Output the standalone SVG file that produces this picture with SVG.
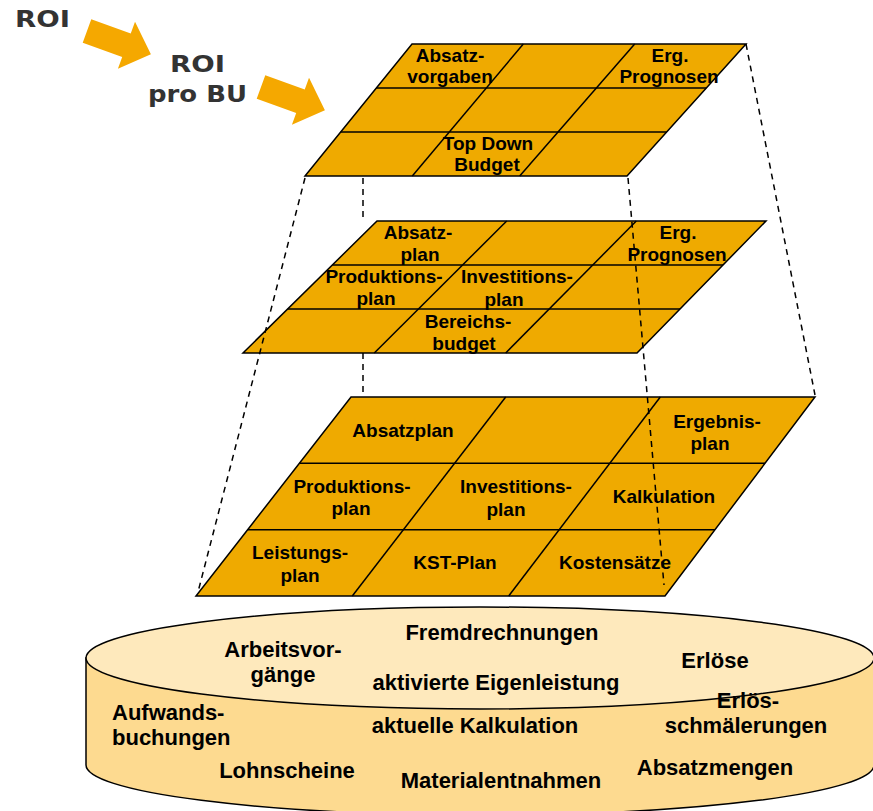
<svg xmlns="http://www.w3.org/2000/svg" width="873" height="811" viewBox="0 0 873 811">
<style>
.cell{fill:#EFAA00;stroke:#000;stroke-width:1.5;stroke-linejoin:miter}
.grid{stroke:#000;stroke-width:1.5;fill:none}
.dash{stroke:#000;stroke-width:1.5;stroke-dasharray:6 5;fill:none}
.lbl{font-family:"Liberation Sans",Arial,sans-serif;font-weight:bold;font-size:19px;fill:#000;text-anchor:middle}
.cyl{font-family:"Liberation Sans",Arial,sans-serif;font-weight:bold;font-size:22px;fill:#000;text-anchor:middle}
.roi{font-family:"DejaVu Sans",Verdana,sans-serif;font-weight:bold;font-size:23px;fill:#333;text-anchor:middle}
.arrow{fill:#F5A800}
</style>
<defs>
<polygon id="arr" points="0,-12.5 42,-12.5 42,-25 68,0 42,25 42,12.5 0,12.5"/>
</defs>
<rect width="873" height="811" fill="#fff"/>

<g id="roi-labels">
<text class="roi" x="42.5" y="27" textLength="55" lengthAdjust="spacingAndGlyphs">ROI</text>
<text class="roi" x="197.5" y="72" textLength="55" lengthAdjust="spacingAndGlyphs">ROI</text>
<text class="roi" x="197.5" y="102" textLength="99" lengthAdjust="spacingAndGlyphs">pro BU</text>
<use href="#arr" class="arrow" transform="translate(87,31) rotate(20)"/>
<use href="#arr" class="arrow" transform="translate(261,87) rotate(20)"/>
</g>

<g id="database">
<path d="M86,658 L86,765 A394,50 0 0 0 874,765 L874,658 Z" fill="#FDDA90" stroke="#000" stroke-width="1.5"/>
<ellipse cx="480" cy="658" rx="394" ry="51" fill="#FEE9BC" stroke="#000" stroke-width="1.5"/>
<text class="cyl" x="502" y="640">Fremdrechnungen</text>
<text class="cyl" x="283" y="657">Arbeitsvor-</text>
<text class="cyl" x="283" y="682">gänge</text>
<text class="cyl" x="715" y="668">Erlöse</text>
<text class="cyl" x="496" y="690">aktivierte Eigenleistung</text>
<text class="cyl" x="748" y="708">Erlös-</text>
<text class="cyl" x="746" y="733">schmälerungen</text>
<text class="cyl" x="112" y="720" style="text-anchor:start">Aufwands-</text>
<text class="cyl" x="112" y="745" style="text-anchor:start">buchungen</text>
<text class="cyl" x="475" y="733">aktuelle Kalkulation</text>
<text class="cyl" x="287" y="778">Lohnscheine</text>
<text class="cyl" x="501" y="788">Materialentnahmen</text>
<text class="cyl" x="715" y="775">Absatzmengen</text>
</g>

<g id="layer-bottom">
<polygon class="cell" points="351,397 815,397 665,596 196,596"/>
<line class="grid" x1="299.3" y1="463.3" x2="765" y2="463.3"/>
<line class="grid" x1="247.7" y1="529.7" x2="715" y2="529.7"/>
<line class="grid" x1="505.7" y1="397" x2="352.3" y2="596"/>
<line class="grid" x1="660.3" y1="397" x2="508.7" y2="596"/>
<text class="lbl" x="403" y="437">Absatzplan</text>
<text class="lbl" x="717" y="428">Ergebnis-</text>
<text class="lbl" x="710" y="450">plan</text>
<text class="lbl" x="352" y="493">Produktions-</text>
<text class="lbl" x="351" y="515">plan</text>
<text class="lbl" x="516" y="493">Investitions-</text>
<text class="lbl" x="506" y="516">plan</text>
<text class="lbl" x="664" y="503">Kalkulation</text>
<text class="lbl" x="300" y="559">Leistungs-</text>
<text class="lbl" x="300" y="582">plan</text>
<text class="lbl" x="455" y="569">KST-Plan</text>
<text class="lbl" x="615" y="569">Kostensätze</text>
</g>

<g id="layer-middle">
<polygon class="cell" points="377,221 766,221 637,353 243,353"/>
<line class="grid" x1="332.3" y1="265" x2="723" y2="265"/>
<line class="grid" x1="287.7" y1="309" x2="680" y2="309"/>
<line class="grid" x1="506.7" y1="221" x2="374.3" y2="353"/>
<line class="grid" x1="636.3" y1="221" x2="505.7" y2="353"/>
<text class="lbl" x="418" y="239">Absatz-</text>
<text class="lbl" x="420" y="261">plan</text>
<text class="lbl" x="678" y="239">Erg.</text>
<text class="lbl" x="677" y="261">Prognosen</text>
<text class="lbl" x="384" y="283">Produktions-</text>
<text class="lbl" x="376" y="305">plan</text>
<text class="lbl" x="517" y="283">Investitions-</text>
<text class="lbl" x="504" y="306">plan</text>
<text class="lbl" x="468" y="328">Bereichs-</text>
<text class="lbl" x="464" y="350">budget</text>
</g>

<g id="layer-top">
<polygon class="cell" points="412,44 746,44 627,176 305,176"/>
<line class="grid" x1="376.3" y1="88" x2="706.3" y2="88"/>
<line class="grid" x1="340.7" y1="132" x2="666.7" y2="132"/>
<line class="grid" x1="523.3" y1="44" x2="412.3" y2="176"/>
<line class="grid" x1="634.7" y1="44" x2="519.7" y2="176"/>
<text class="lbl" x="450" y="62">Absatz-</text>
<text class="lbl" x="450" y="83">vorgaben</text>
<text class="lbl" x="670" y="62">Erg.</text>
<text class="lbl" x="669" y="83">Prognosen</text>
<text class="lbl" x="488" y="150">Top Down</text>
<text class="lbl" x="487" y="171">Budget</text>
</g>

<g id="connectors">
<line class="dash" x1="305" y1="178" x2="198" y2="592"/>
<line class="dash" x1="363" y1="178" x2="363" y2="221"/>
<line class="dash" x1="363" y1="353" x2="363" y2="397"/>
<line class="dash" x1="746" y1="44" x2="815" y2="395"/>
<line class="dash" x1="628" y1="178" x2="664" y2="585"/>
</g>
</svg>
